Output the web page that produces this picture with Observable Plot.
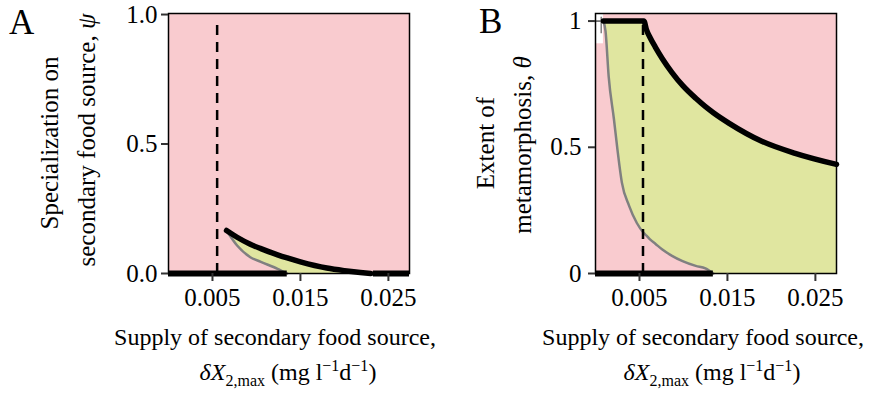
<!DOCTYPE html>
<html>
<head>
<meta charset="utf-8">
<script src="https://cdn.jsdelivr.net/npm/d3@7"></script>
<script src="https://cdn.jsdelivr.net/npm/@observablehq/plot@0.6"></script>
<style>
  html, body { margin: 0; padding: 0; background: #fff; }
  #wrap { position: relative; width: 893px; height: 394px; font-family: "Liberation Serif", "Times New Roman", serif; }
  #wrap > svg, #wrap > figure { position: absolute; top: 0; margin: 0; }
</style>
</head>
<body>
<div id="wrap"></div>
<script>
// ---------- data ----------
const xTicks = [0.005, 0.015, 0.025];
const yTicksA = [0, 0.5, 1];
const yTicksB = [0, 0.5, 1];

// Panel A: specialization psi
const aX     = [0.0066, 0.0078, 0.0093, 0.0105, 0.0124, 0.0135, 0.0150, 0.0180, 0.0200, 0.0218, 0.0230];
const aUpper = [0.166, 0.140, 0.113, 0.096, 0.072, 0.060, 0.045, 0.021, 0.011, 0.004, 0.000];
const aLower = [0.166, 0.108, 0.063, 0.045, 0.018, 0.000, 0.000, 0.000, 0.000, 0.000, 0.000];
const aDash = [0.00553];
const aBaseFrom = [0.0, 0.0233];
const aBaseTo   = [0.0135, 0.0274];

// Panel B: extent of metamorphosis theta
const bX     = [0.0009, 0.00114, 0.0015, 0.0021, 0.0025, 0.0030, 0.0038, 0.0047, 0.0055, 0.0058, 0.0062, 0.0068, 0.0076, 0.0087, 0.0099, 0.0114, 0.0125, 0.0134, 0.0152, 0.0189, 0.0227, 0.0274];
const bUpper = [1.0, 1.0, 1.0, 1.0, 1.0, 1.0, 1.0, 1.0, 1.0, 0.965, 0.935, 0.897, 0.851, 0.796, 0.745, 0.694, 0.661, 0.637, 0.595, 0.524, 0.476, 0.432];
const bLower = [1.0, 0.96, 0.78, 0.61, 0.49, 0.36, 0.27, 0.20, 0.16, 0.150, 0.135, 0.118, 0.095, 0.070, 0.049, 0.030, 0.020, 0.000, 0.000, 0.000, 0.000, 0.000];
const bDash = [0.0054];
const bBaseFrom = [0.0];
const bBaseTo   = [0.0134];
const bWhiteX = [0.0, 0.0009];
const bWhiteY = [0.91, 1.03];

// ---------- styling ----------
const PINK = "#f9cbcf";
const YELLOW = "#e0e6a0";
const GRAY = "#808080";
const FONT = "Liberation Serif";

const tableA = aX.map((x, i) => ({x, upper: aUpper[i], lower: aLower[i]}));
const grayA = tableA.filter(d => d.x <= 0.0135);
const baseA = aBaseFrom.map((x1, i) => ({x1, x2: aBaseTo[i]}));

const tableB = bX.map((x, i) => ({x, upper: bUpper[i], lower: bLower[i]}));
const grayB = tableB.filter(d => d.x <= 0.0134);
const baseB = bBaseFrom.map((x1, i) => ({x1, x2: bBaseTo[i]}));
const whiteB = [{x1: bWhiteX[0], x2: bWhiteX[1], y1: bWhiteY[0], y2: bWhiteY[1]}];

function panel({width, marginLeft, marginRight, yDomain, yTicks, yFormat, yPad, table, gray, dash, dashTop, base, extra}) {
  return Plot.plot({
    width, height: 394,
    marginLeft, marginRight, marginTop: 13, marginBottom: 121,
    x: {domain: [0, 0.0274]},
    y: {domain: yDomain},
    style: {fontFamily: FONT, fontSize: "25px", background: "transparent", overflow: "visible", color: "black"},
    marks: [
      Plot.frame({fill: PINK}),
      ...(extra || []),
      Plot.areaY(table, {x: "x", y1: "lower", y2: "upper", fill: YELLOW, curve: "monotone-x"}),
      Plot.line(gray, {x: "x", y: "lower", stroke: GRAY, strokeWidth: 2.5, curve: "monotone-x"}),
      Plot.line(table, {x: "x", y: "upper", stroke: "black", strokeWidth: 5.5, curve: "monotone-x", strokeLinecap: "round", strokeLinejoin: "round"}),
      Plot.ruleX(dash, {x: d => d, y1: 0, y2: dashTop, stroke: "black", strokeWidth: 2.5, strokeDasharray: "10,7"}),
      Plot.ruleY(base, {x1: "x1", x2: "x2", y: 0, stroke: "black", strokeWidth: 6}),
      Plot.frame({stroke: "black", strokeWidth: 1.5}),
      Plot.axisX({ticks: xTicks, tickFormat: d3.format(".3f"), tickSize: 8, tickPadding: 7, stroke: "#333", strokeWidth: 2, fill: "black", label: null, fontSize: 25, fontFamily: FONT}),
      Plot.axisY({ticks: yTicks, tickFormat: yFormat, tickSize: 7, tickPadding: yPad, stroke: "#333", strokeWidth: 2, fill: "black", label: null, fontSize: 25, fontFamily: FONT})
    ]
  });
}

const wrap = document.getElementById("wrap");

const plotA = panel({
  width: 440, marginLeft: 168, marginRight: 31,
  yDomain: [0, 1.004], yTicks: yTicksA, yFormat: d3.format(".1f"), yPad: 4,
  table: tableA, gray: grayA, dash: aDash, dashTop: 0.97, base: baseA
});
plotA.style.left = "0px";
wrap.appendChild(plotA);

const plotB = panel({
  width: 453, marginLeft: 155, marginRight: 57,
  yDomain: [0, 1.03], yTicks: yTicksB, yFormat: d => String(d), yPad: 7,
  table: tableB, gray: grayB, dash: bDash, dashTop: 1.0, base: baseB,
  extra: [
    Plot.rect(whiteB, {x1: "x1", x2: "x2", y1: "y1", y2: "y2", fill: "white"}),
    Plot.ruleY([1], {x1: 0, x2: 0.0009, stroke: "#555", strokeWidth: 1.5}),
    Plot.ruleX([0.00065], {y1: 0.95, y2: 1.015, stroke: GRAY, strokeWidth: 1.5})
  ]
});
plotB.style.left = "440px";
wrap.appendChild(plotB);

// ---------- axis titles and panel letters (real text) ----------
const ov = d3.select(wrap).append("svg")
  .attr("width", 893).attr("height", 394)
  .style("left", "0px").style("pointer-events", "none")
  .attr("font-family", FONT).attr("fill", "black");

function xTitle(cx1, cx2) {
  ov.append("text").attr("x", cx1).attr("y", 345).attr("text-anchor", "middle").attr("font-size", 24)
    .text("Supply of secondary food source,");
  const t = ov.append("text").attr("x", cx2).attr("y", 380).attr("text-anchor", "middle").attr("font-size", 24);
  t.append("tspan").attr("font-style", "italic").text("δX");
  t.append("tspan").attr("font-size", 16).attr("dy", 6).text("2,max");
  t.append("tspan").attr("dy", -6).text(" (mg l");
  t.append("tspan").attr("font-size", 16).attr("dy", -9).text("−1");
  t.append("tspan").attr("dy", 9).text("d");
  t.append("tspan").attr("font-size", 16).attr("dy", -9).text("−1");
  t.append("tspan").attr("dy", 9).text(")");
}
xTitle(275, 288);
xTitle(703, 712);

function yLine(x, y, parts) {
  const t = ov.append("text").attr("transform", `translate(${x},${y}) rotate(-90)`)
    .attr("text-anchor", "middle").attr("font-size", 25);
  parts.forEach(([s, it]) => t.append("tspan").attr("font-style", it ? "italic" : null).text(s));
}
yLine(58, 143, [["Specialization on"]]);
yLine(95, 140, [["secondary food source, "], ["ψ", true]]);
yLine(494, 143, [["Extent of"]]);
yLine(531, 145, [["metamorphosis, "], ["θ", true]]);

ov.append("text").attr("x", 9).attr("y", 34).attr("font-size", 35).text("A");
ov.append("text").attr("x", 479).attr("y", 33).attr("font-size", 35).text("B");
</script>
</body>
</html>
